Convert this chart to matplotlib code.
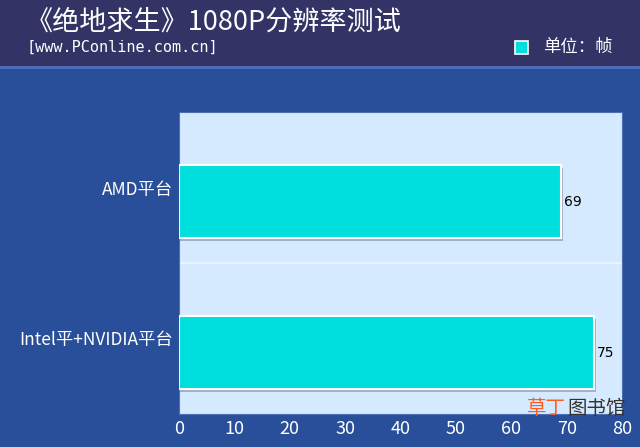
import matplotlib
matplotlib.use("Agg")
import matplotlib.pyplot as plt
from matplotlib.patches import Rectangle

plt.rcParams['font.family'] = ['Noto Sans CJK SC', 'DejaVu Sans']

categories = ["AMD平台", "Intel平+NVIDIA平台"]
values = [69, 75]
xticks = [0, 10, 20, 30, 40, 50, 60, 70, 80]
title = "《绝地求生》1080P分辨率测试"
subtitle = "[www.PConline.com.cn]"
legend_label = "单位：帧"

W, H = 640, 447
fig = plt.figure(figsize=(W / 100, H / 100), dpi=100)
fig.patch.set_facecolor("#2a4f9a")

# header band
fig.patches.append(Rectangle((0, 1 - 66 / H), 1, 66 / H, transform=fig.transFigure,
                             facecolor="#333366", edgecolor="none", zorder=0))
fig.patches.append(Rectangle((0, 1 - 69 / H), 1, 3 / H, transform=fig.transFigure,
                             facecolor="#4a6fb8", edgecolor="none", zorder=0))

fig.text(26 / W, 1 - 22 / H, title, color="white", fontsize=19.5, va="center", ha="left")
fig.text(26 / W, 1 - 47 / H, subtitle, color="white", fontsize=11, va="center", ha="left",
         family=['DejaVu Sans Mono'])
fig.patches.append(Rectangle((515 / W, 1 - 54 / H), 13 / W, 13 / H, transform=fig.transFigure,
                             facecolor="#00dede", edgecolor="white", linewidth=1.2, zorder=2))
fig.text(543 / W, 1 - 47 / H, legend_label, color="white", fontsize=12.5, va="center", ha="left")

left, right, top, bottom = 179, 622, 112, 414
ax = fig.add_axes([left / W, 1 - bottom / H, (right - left) / W, (bottom - top) / H])
ax.set_facecolor("#d6eaff")
ax.set_xlim(0, 80)
ax.set_ylim(1.5, -0.5)

offset = 0.093
h = 0.48
ypos = [i + offset for i in range(len(categories))]
# shadow
ax.barh([y + 0.02 for y in ypos], [v + 0.3 for v in values], height=h, color="#9fb3c8",
        edgecolor="none", zorder=2)
ax.barh(ypos, values, height=h, color="#00dede", edgecolor="white", linewidth=1.5, zorder=3)
for y, v in zip(ypos, values):
    ax.text(v + 0.5, y, str(v), color="black", fontsize=10, va="center", ha="left",
            family=['DejaVu Sans'], zorder=4)

ax.axhline(0.5, color="#e8f3ff", linewidth=1.5, zorder=1)

ax.set_yticks(range(len(categories)))
ax.set_yticklabels(categories, color="white", fontsize=12.5)
ax.set_xticks(xticks)
ax.set_xticklabels([str(t) for t in xticks], color="white", fontsize=13)
ax.tick_params(axis="both", length=0, pad=4)
for s in ["top", "right", "left", "bottom"]:
    ax.spines[s].set_color("#4a6fb8")

fig.text(527 / W, 1 - 409 / H, "草丁", color="#ff5a1f", fontsize=14, va="center", ha="left")
fig.text(567 / W, 1 - 409 / H, "图书馆", color="#333333", fontsize=14, va="center", ha="left")

fig.savefig("out.png", dpi=100, facecolor=fig.get_facecolor())
